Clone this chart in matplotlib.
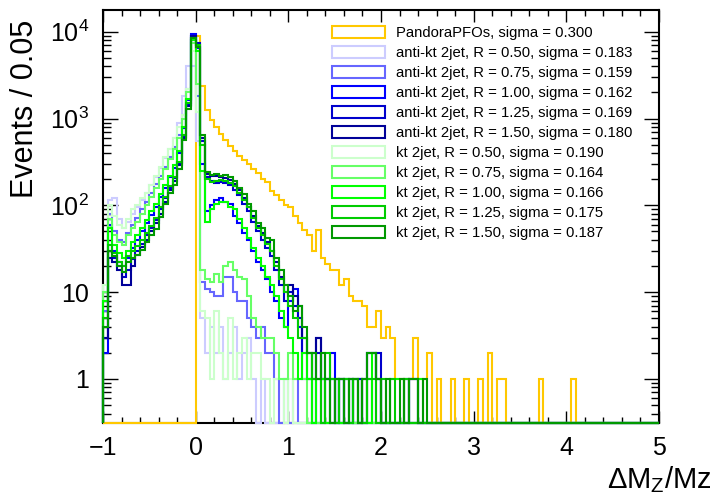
import numpy as np
import matplotlib
matplotlib.use("Agg")
import matplotlib.pyplot as plt
from matplotlib.patches import Patch
from matplotlib.ticker import FixedLocator, FixedFormatter, MultipleLocator, LogLocator, NullFormatter

plt.rcParams['font.family'] = ['Liberation Sans', 'DejaVu Sans']
plt.rcParams['mathtext.fontset'] = 'custom'
plt.rcParams['mathtext.rm'] = 'Liberation Sans'
plt.rcParams['mathtext.it'] = 'Liberation Sans:italic'

# ---------------- data (bins of 0.05 from -1 to 5) ----------------
x_min, x_max, bin_w = -1.0, 5.0, 0.05

labels = ["PandoraPFOs, sigma = 0.300",
          "anti-kt 2jet, R = 0.50, sigma = 0.183",
          "anti-kt 2jet, R = 0.75, sigma = 0.159",
          "anti-kt 2jet, R = 1.00, sigma = 0.162",
          "anti-kt 2jet, R = 1.25, sigma = 0.169",
          "anti-kt 2jet, R = 1.50, sigma = 0.180",
          "kt 2jet, R = 0.50, sigma = 0.190",
          "kt 2jet, R = 0.75, sigma = 0.164",
          "kt 2jet, R = 1.00, sigma = 0.166",
          "kt 2jet, R = 1.25, sigma = 0.175",
          "kt 2jet, R = 1.50, sigma = 0.187"]

colors = ["#ffc800",
          "#ccccff", "#6666ff", "#0000ff", "#0000cc", "#000099",
          "#ccffcc", "#66ff66", "#00ff00", "#00cc00", "#009900"]

pandora = [0]*20 + [9000, 2400, 1250, 950, 790, 670, 560, 480, 420, 370,
                    330, 300, 265, 235, 200, 185, 148, 130, 115, 100,
                    95, 75, 62, 52, 45, 30, 52, 25, 21, 18,
                    18, 12, 14, 9, 8, 8, 7, 4, 4, 6,
                    3, 4, 3, 1, 1, 1, 1, 3, 1, 1,
                    2, 0, 1, 0, 0, 1, 0, 0, 1, 0,
                    0, 1, 0, 2, 0, 1, 1, 0, 0, 0,
                    0, 0, 0, 0, 1, 0, 0, 0, 0, 0,
                    0, 1]

antikt_050 = [10, 115, 120, 70, 55, 65, 80, 95, 115, 140,
              170, 210, 270, 350, 450, 600, 900, 1800, 4000, 4000,
              550, 5, 2, 4, 2, 4, 1, 2, 4, 1,
              2, 3, 1, 0, 1]
antikt_075 = [6, 80, 50, 40, 38, 48, 60, 72, 90, 110,
              140, 175, 220, 280, 360, 470, 650, 1100, 2200, 8000,
              1800, 13, 11, 10, 9, 9, 15, 15, 10, 8,
              8, 5, 4, 3, 4, 2, 2, 1, 0, 1,
              0, 1]
antikt_100 = [2, 60, 30, 22, 20, 25, 32, 40, 50, 62,
              78, 95, 125, 160, 210, 270, 400, 780, 1650, 9500,
              6500, 300, 85, 100, 115, 120, 110, 105, 75, 62,
              48, 40, 30, 22, 18, 14, 10, 8, 5, 4,
              8, 11, 4, 1, 1, 0, 3, 1, 1, 2,
              0, 1, 0, 1, 0, 1, 0, 2, 2, 1,
              0, 0, 0, 0, 0, 0, 1, 1]
antikt_125 = [3, 30, 25, 20, 15, 18, 24, 30, 36, 45,
              55, 68, 90, 120, 160, 205, 310, 620, 1450, 9000,
              7500, 550, 210, 190, 180, 185, 180, 170, 150, 130,
              105, 85, 65, 50, 40, 32, 26, 18, 12, 8,
              10, 7, 5, 2, 2, 1, 2, 0, 1, 1,
              0, 1, 0, 0, 1, 1, 0, 1, 0, 2,
              0, 0, 0, 0, 0, 1]
antikt_150 = [3, 25, 22, 18, 12, 12, 20, 27, 33, 40,
              50, 62, 80, 110, 150, 190, 290, 600, 1400, 9000,
              7000, 600, 230, 215, 220, 210, 205, 195, 175, 150,
              120, 95, 75, 58, 48, 38, 30, 22, 15, 10,
              12, 9, 7, 3, 1, 2, 3, 1, 1, 0,
              1, 0, 1, 1, 0, 0, 1, 2, 2, 1,
              0, 0, 0, 0, 0, 0, 1, 1]
kt_050 = [12, 100, 75, 60, 55, 70, 90, 100, 120, 140,
          170, 220, 280, 360, 450, 600, 800, 1100, 2200, 6000,
          1200, 6, 5, 1, 6, 2, 1, 5, 1, 2,
          3, 1, 2, 2, 1, 1, 0, 1, 1, 0,
          1]
kt_075 = [10, 70, 45, 38, 35, 45, 55, 65, 80, 100,
          125, 160, 200, 260, 340, 440, 600, 1000, 2000, 7500,
          2500, 18, 14, 13, 16, 13, 20, 22, 18, 15,
          14, 9, 5, 4, 3, 3, 3, 2, 1, 1,
          2, 1, 1, 1, 0, 1, 0, 1]
kt_100 = [8, 55, 35, 28, 25, 30, 38, 45, 55, 68,
          85, 105, 135, 170, 220, 290, 420, 800, 1700, 8000,
          6000, 250, 65, 90, 105, 108, 108, 95, 90, 70,
          55, 42, 32, 25, 20, 15, 12, 9, 6, 4,
          3, 2, 1, 2, 1, 0, 1, 1, 0, 1,
          1, 0, 1, 0, 1, 0, 1, 0, 2, 1,
          0, 0, 1, 1, 1, 0, 0, 0, 1]
kt_125 = [5, 35, 28, 22, 20, 26, 30, 34, 40, 48,
          58, 72, 95, 125, 165, 210, 320, 650, 1500, 8500,
          7000, 500, 200, 185, 190, 195, 190, 180, 165, 140,
          115, 95, 72, 55, 45, 36, 30, 20, 14, 10,
          7, 5, 3, 3, 2, 1, 1, 0, 2, 1,
          0, 1, 1, 0, 1, 0, 0, 1, 1, 0,
          1, 0, 1, 0, 0, 1]
kt_150 = [4, 30, 26, 20, 17, 22, 25, 27, 31, 38,
          46, 54, 73, 105, 140, 170, 265, 560, 1300, 8500,
          6600, 640, 240, 225, 230, 215, 225, 210, 190, 160,
          135, 105, 85, 62, 55, 42, 40, 25, 18, 12,
          9, 6, 7, 4, 2, 2, 1, 2, 1, 0,
          1, 1, 0, 1, 1, 0, 1, 2, 2, 1,
          0, 1, 0, 0, 1, 0, 1, 1, 0, 1]

series = [pandora, antikt_050, antikt_075, antikt_100, antikt_125, antikt_150,
          kt_050, kt_075, kt_100, kt_125, kt_150]

y_ticks = [1, 10, 100, 1000, 10000]
y_tick_labels = ["1", "10", r"$\mathregular{10^{2}}$", r"$\mathregular{10^{3}}$", r"$\mathregular{10^{4}}$"]
x_ticks = [-1, 0, 1, 2, 3, 4, 5]
x_tick_labels = ["\u22121", "0", "1", "2", "3", "4", "5"]

# ---------------- figure ----------------
W, H = 716, 498
fig = plt.figure(figsize=(W/100, H/100), dpi=100)
L, R, T, B = 103, 659, 10, 423
ax = fig.add_axes([L/W, 1 - B/H, (R-L)/W, (B-T)/H])

y_lo, y_hi = 0.311, 17800
nb = int(round((x_max - x_min) / bin_w))
edges = np.linspace(x_min, x_max, nb + 1)
for vals, c in zip(series, colors):
    v = np.zeros(nb)
    v[:len(vals)] = vals
    v = np.where(v > 0, v, y_lo)   # empty bins drawn on the lower frame, as ROOT does
    ax.stairs(v, edges, baseline=y_lo, color=c, lw=1.5, zorder=3, clip_on=False)

ax.set_yscale('log')
ax.set_xlim(x_min, x_max)
ax.set_ylim(y_lo, y_hi)

ax.xaxis.set_major_locator(FixedLocator(x_ticks))
ax.xaxis.set_major_formatter(FixedFormatter(x_tick_labels))
ax.xaxis.set_minor_locator(MultipleLocator(0.2))
ax.yaxis.set_major_locator(FixedLocator(y_ticks))
ax.yaxis.set_major_formatter(FixedFormatter(y_tick_labels))
ax.yaxis.set_minor_locator(LogLocator(base=10, subs=np.arange(2, 10)))
ax.yaxis.set_minor_formatter(NullFormatter())

ax.tick_params(axis='both', which='both', direction='in', top=True, right=True, width=1.0)
ax.tick_params(axis='x', which='major', length=8.5, labelsize=18, pad=9)
ax.tick_params(axis='x', which='minor', length=4.2)
ax.tick_params(axis='y', which='major', length=11, labelsize=18, pad=10)
ax.tick_params(axis='y', which='minor', length=6)
for s in ax.spines.values():
    s.set_linewidth(1.5)

ax.set_ylabel("Events / 0.05", fontsize=22, loc='top')
ax.yaxis.set_label_coords(-0.113, 0.976)
ax.set_xlabel("\u0394M$\\mathregular{_{Z}}$/Mz", fontsize=21, loc='right')
ax.xaxis.set_label_coords(1.095, -0.10)

handles = [Patch(facecolor='white', edgecolor=c, linewidth=1.5) for c in colors]
ax.legend(handles, labels, loc='upper left', bbox_to_anchor=(332/W, 1 - 26/H),
          bbox_transform=fig.transFigure, frameon=False, fontsize=10.7,
          handlelength=3.55, handleheight=0.85, handletextpad=0.75,
          labelspacing=0.4, borderpad=0, borderaxespad=0)

fig.savefig("out.png", dpi=100)
